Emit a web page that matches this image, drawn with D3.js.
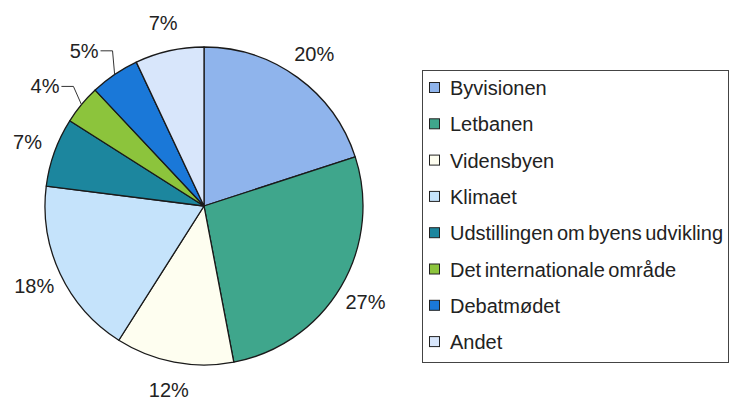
<!DOCTYPE html>
<meta charset="utf-8">
<style>
body { margin: 0; background: #fff; }
text { font-family: "Liberation Sans", Arial, sans-serif; fill: #222; }
</style>
<svg width="736" height="401"></svg>
<script src="https://cdn.jsdelivr.net/npm/d3@7"></script>
<script>
// share of answers per topic, in percent
var categories = ["Byvisionen", "Letbanen", "Vidensbyen", "Klimaet",
                  "Udstillingen om byens udvikling", "Det internationale område",
                  "Debatmødet", "Andet"];
var values = [20, 27, 12, 18, 7, 4, 5, 7];
var colors = ["#8fb4ec", "#3fa68c", "#fefef0", "#c5e3fb",
              "#1c869e", "#8cc43c", "#1a78d8", "#d8e6fb"];
var withLeader = [false, false, false, false, false, true, true, false];

var svg = d3.select("svg"),
    cx = 204, cy = 206, r = 159;

var pie = d3.pie().sort(null).value(function(d) { return d; });
var arc = d3.arc().innerRadius(0).outerRadius(r);
var arcs = pie(values);

var g = svg.append("g").attr("transform", "translate(" + cx + "," + cy + ")");

g.selectAll("path.slice")
  .data(arcs)
  .enter().append("path")
    .attr("class", "slice")
    .attr("d", arc)
    .attr("fill", function(d, i) { return colors[i]; })
    .attr("stroke", "#1a1a1a")
    .attr("stroke-width", 1.3)
    .attr("stroke-linejoin", "round");

function polar(a, rad) {
  return [rad * Math.sin(a), -rad * Math.cos(a)];
}

// percentage labels
arcs.forEach(function(d, i) {
  var mid = (d.startAngle + d.endAngle) / 2;
  var p = polar(mid, r * 1.18);
  g.append("text")
    .attr("x", p[0])
    .attr("y", p[1])
    .attr("dy", "0.35em")
    .attr("font-size", 20)
    .attr("text-anchor", withLeader[i] ? "end" : "middle")
    .text(values[i] + "%");
  if (withLeader[i]) {
    var e = polar(mid, r);
    var elbowX = p[0] + 14;
    g.append("polyline")
      .attr("points", [[e[0], e[1]], [elbowX, p[1]], [p[0] + 2, p[1]]].join(" "))
      .attr("fill", "none")
      .attr("stroke", "#333")
      .attr("stroke-width", 1);
  }
});

// legend
var lx = 422, ly = 70, lw = 306, lh = 292, step = 36.3;
svg.append("rect")
  .attr("x", lx + 0.5).attr("y", ly + 0.5)
  .attr("width", lw).attr("height", lh)
  .attr("fill", "#fff")
  .attr("stroke", "#444")
  .attr("stroke-width", 1);

var items = svg.selectAll("g.item")
  .data(categories)
  .enter().append("g")
    .attr("class", "item")
    .attr("transform", function(d, i) { return "translate(" + (lx + 7) + "," + (ly + 18 + i * step) + ")"; });

items.append("rect")
  .attr("x", 0.5).attr("y", -5.5)
  .attr("width", 10).attr("height", 10)
  .attr("fill", function(d, i) { return colors[i]; })
  .attr("stroke", "#222")
  .attr("stroke-width", 1);

items.append("text")
  .attr("x", 21)
  .attr("dy", "0.35em")
  .attr("font-size", 20)
  .attr("word-spacing", "-2px")
  .text(function(d) { return d; });
</script>
